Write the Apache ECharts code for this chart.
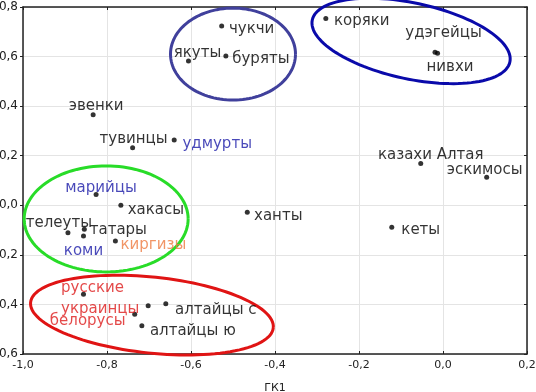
<!DOCTYPE html>
<html><head><meta charset="utf-8">
<script src="https://cdn.jsdelivr.net/npm/echarts@6/dist/echarts.min.js"></script>
<style>html,body{margin:0;padding:0;background:#fff}#c{width:536px;height:392px}</style>
</head><body><div id="c"></div>
<script>
// ---- data ----
const names = ['чукчи','якуты','буряты','удмурты','коряки','удэгейцы','нивхи','казахи Алтая','эскимосы','кеты','ханты','эвенки','тувинцы','марийцы','хакасы','телеуты','татары','коми','киргизы','русские','украинцы','белорусы','алтайцы с','алтайцы ю'];
const gk1 = [-0.527,-0.606,-0.517,-0.640,-0.279,-0.013,-0.019,-0.053,0.104,-0.122,-0.466,-0.833,-0.739,-0.826,-0.767,-0.893,-0.854,-0.856,-0.780,-0.856,-0.702,-0.734,-0.660,-0.717];
const gk2 = [0.723,0.582,0.602,0.263,0.754,0.613,0.617,0.169,0.113,-0.089,-0.028,0.365,0.232,0.044,0.000,-0.111,-0.097,-0.124,-0.144,-0.359,-0.405,-0.440,-0.397,-0.486];
const xTickValues = [-1.0,-0.8,-0.6,-0.4,-0.2,0.0,0.2];
const yTickValues = [-0.6,-0.4,-0.2,0.0,0.2,0.4,0.6,0.8];
const xAxisTitle = 'ГК1';

// ---- styling (label placement, colours, group ellipses) ----
const labelOffset = {
 'чукчи':[30,3],'якуты':[9,-8],'буряты':[35,3],'удмурты':[43,4],'коряки':[36,3],
 'удэгейцы':[6,-20],'нивхи':[15,15],'казахи Алтая':[10,-8],'эскимосы':[-2,-7],
 'кеты':[29,3],'ханты':[31,4],'эвенки':[3,-9],'тувинцы':[1,-9],'марийцы':[5,-6],
 'хакасы':[35,5],'телеуты':[-9,-10],'татары':[34,1],'коми':[0,15],'киргизы':[38,4],
 'русские':[9,-6],'украинцы':[-48,3],'белорусы':[-47,7],'алтайцы с':[50,6],'алтайцы ю':[51,5]
};
const labelColor = {
 'удмурты':'#1a1aa8','марийцы':'#1a1aa8','коми':'#1a1aa8','киргизы':'#ee7a40',
 'русские':'#dd1c1c','украинцы':'#dd1c1c','белорусы':'#dd1c1c'
};
const ellipses = [
 {cx:-0.500, cy:0.610, rx:0.1488, ry:0.1856, rot:0, color:'#40409c'},
 {cx:-0.076, cy:0.663, rx:0.2405, ry:0.1533, rot:12, color:'#0a0aaa'},
 {cx:-0.802, cy:-0.055, rx:0.1952, ry:0.2139, rot:0, color:'#28dc28'},
 {cx:-0.693, cy:-0.443, rx:0.2905, ry:0.1533, rot:6, color:'#e01414'}
];

const fmt = v => { if (Math.abs(v) < 1e-9) v = 0; return v.toFixed(1).replace('.', ','); };
const font = 'DejaVu Sans';
const SYM = 5;

const pts = names.map((n,i) => {
  const o = labelOffset[n];
  return {
    name: n, value: [gk1[i], gk2[i]],
    label: {show:true, formatter:'{b}', position:[SYM/2 + o[0], SYM/2 + o[1]], align:'center', verticalAlign:'middle',
            color: labelColor[n] || '#000', fontFamily: font, fontSize: 15}
  };
});

const axisCommon = {
  type:'value', interval: 0.2,
  axisLine:{show:true, onZero:false, lineStyle:{color:'#222', width:1.5}},
  splitLine:{show:true, lineStyle:{color:'#e4e4e4', width:1}}
};

const chart = echarts.init(document.getElementById('c'), null, {renderer:'canvas'});
chart.setOption({
  backgroundColor:'#fff',
  animation:false,
  grid:{left:23, right:9, top:7, bottom:38, containLabel:false, outerBoundsMode:'none'},
  xAxis:[
    Object.assign({}, axisCommon, {min:xTickValues[0], max:xTickValues[xTickValues.length-1], position:'bottom',
      name:xAxisTitle, nameLocation:'middle', nameGap:29, nameTextStyle:{fontFamily:font, fontSize:11, color:'#222'},
      axisTick:{show:true, inside:true, length:3, lineStyle:{color:'#222'}},
      axisLabel:{formatter:fmt, fontFamily:font, fontSize:11, color:'#222', margin:6}}),
    Object.assign({}, axisCommon, {min:xTickValues[0], max:xTickValues[xTickValues.length-1], position:'top',
      splitLine:{show:false}, axisTick:{show:true, inside:true, length:3, lineStyle:{color:'#222'}},
      axisLabel:{show:false}})
  ],
  yAxis:[
    Object.assign({}, axisCommon, {min:yTickValues[0], max:yTickValues[yTickValues.length-1], position:'left',
      axisTick:{show:true, inside:false, length:3, lineStyle:{color:'#222'}},
      axisLabel:{formatter:fmt, fontFamily:font, fontSize:12, color:'#222', margin:5}}),
    Object.assign({}, axisCommon, {min:yTickValues[0], max:yTickValues[yTickValues.length-1], position:'right',
      splitLine:{show:false}, axisTick:{show:true, inside:true, length:3, lineStyle:{color:'#222'}},
      axisLabel:{show:false}})
  ],
  series:[
    {
      type:'custom', xAxisIndex:0, yAxisIndex:0, clip:false, silent:true, z:1,
      data: ellipses.map(e => [e.cx, e.cy]),
      renderItem: function(params, api){
        const e = ellipses[params.dataIndex];
        const c = api.coord([api.value(0), api.value(1)]);
        const s = api.size([e.rx, e.ry]);
        const a = s[0], b = s[1], t = e.rot*Math.PI/180;
        const p = [];
        for (let k=0;k<=120;k++){
          const ph = k/120*2*Math.PI;
          const ex = a*Math.cos(ph), ey = b*Math.sin(ph);
          p.push([c[0] + ex*Math.cos(t) - ey*Math.sin(t), c[1] + ex*Math.sin(t) + ey*Math.cos(t)]);
        }
        return {type:'polyline', shape:{points:p}, style:{stroke:e.color, lineWidth:3, fill:null}};
      }
    },
    {
      type:'scatter', xAxisIndex:0, yAxisIndex:0, symbol:'circle', symbolSize:SYM, z:3,
      itemStyle:{color:'#000'},
      labelLayout:{hideOverlap:false},
      data: pts
    }
  ]
});
</script>
</body></html>
